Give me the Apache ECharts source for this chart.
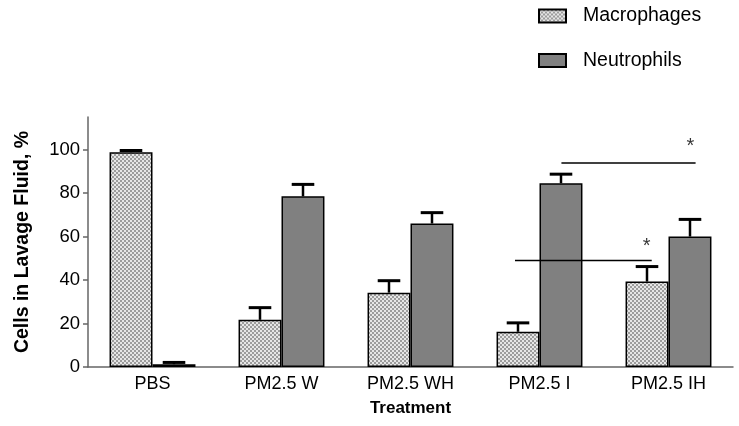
<!DOCTYPE html>
<html>
<head>
<meta charset="utf-8">
<script src="https://cdn.jsdelivr.net/npm/echarts@6/dist/echarts.min.js"></script>
<style>html,body{margin:0;padding:0;background:#fff;}#c{width:739px;height:426px;}</style>
</head>
<body>
<div id="c"></div>
<script>
const categories = ['PBS', 'PM2.5 W', 'PM2.5 WH', 'PM2.5 I', 'PM2.5 IH'];
const macrophages = [98.8, 21.7, 34.2, 16.2, 39.3];
const macrophagesErr = [0.8, 5.6, 5.5, 4.1, 6.9];
const neutrophils = [1.3, 78.5, 66.0, 84.5, 60.0];
const neutrophilsErr = [0.8, 5.5, 5.0, 4.2, 7.9];
const yTicks = [0, 20, 40, 60, 80, 100];
// significance brackets: [xStart, xEnd, y] on a 0..5 category span, star at [x, y]
const sigLines = [[3.67, 4.71, 93.8], [3.31, 4.37, 49.0]];
const sigStars = [[4.67, 101.3], [4.33, 55.3]];

const cv = document.createElement('canvas');
cv.width = 4; cv.height = 4;
const g = cv.getContext('2d');
g.fillStyle = '#e6e6e6'; g.fillRect(0, 0, 4, 4);
g.fillStyle = '#9c9c9c'; g.fillRect(0, 0, 2, 2); g.fillRect(2, 2, 2, 2);
const hatch = { image: cv, repeat: 'repeat' };

function errSeries(name, vals, errs, side) {
  return {
    type: 'custom', name: name + ' err', silent: true, z: 5,
    data: vals.map((v, i) => [i, v, v + errs[i]]),
    renderItem: function (params, api) {
      const band = api.size([1, 0])[0];
      const off = side * band / 6;
      const p0 = api.coord([api.value(0), api.value(1)]);
      const p1 = api.coord([api.value(0), api.value(2)]);
      const x = p0[0] + off;
      const cap = band / 6 * 1.05;
      return {
        type: 'group', children: [
          { type: 'line', shape: { x1: x, y1: p0[1], x2: x, y2: p1[1] }, style: { stroke: '#000', lineWidth: 2.5 } },
          { type: 'line', shape: { x1: x - cap / 2, y1: p1[1], x2: x + cap / 2, y2: p1[1] }, style: { stroke: '#000', lineWidth: 3 } }
        ]
      };
    }
  };
}

const chart = echarts.init(document.getElementById('c'));
const font = 'Liberation Sans, Arial, sans-serif';
chart.setOption({
  animation: false,
  textStyle: { fontFamily: font },
  legend: {
    orient: 'vertical', left: 538, top: 6, padding: 0, icon: 'rect',
    itemWidth: 27, itemHeight: 13, itemGap: 24.5,
    textStyle: { fontSize: 19.5, lineHeight: 20, color: '#000', padding: [0, 0, 0, 12] },
    data: ['Macrophages', 'Neutrophils']
  },
  grid: { left: 88, right: 6, top: 117, bottom: 59, containLabel: false },
  xAxis: [{
    type: 'category', data: categories,
    axisLine: { lineStyle: { color: '#666', width: 1.5 } },
    axisTick: { show: false },
    axisLabel: { fontSize: 18, color: '#000', margin: 8 },
    name: 'Treatment', nameLocation: 'middle', nameGap: 33,
    nameTextStyle: { fontSize: 17, fontWeight: 'bold', color: '#000' }
  }, {
    type: 'value', min: 0, max: 5, show: false
  }],
  yAxis: {
    type: 'value', min: 0, max: 115,
    axisLine: { show: true, lineStyle: { color: '#666', width: 1.5 } },
    axisTick: { show: true, length: 5, customValues: yTicks, lineStyle: { color: '#666', width: 1.5 } },
    axisLabel: { fontSize: 18.5, color: '#000', margin: 8, customValues: yTicks },
    splitLine: { show: false },
    name: 'Cells in Lavage Fluid, %', nameLocation: 'middle', nameGap: 55,
    nameTextStyle: { fontSize: 19.5, fontWeight: 'bold', color: '#000' }
  },
  series: [
    {
      name: 'Macrophages', type: 'bar', data: macrophages, barWidth: '33.3%', barGap: '0%',
      itemStyle: { color: hatch, borderColor: '#000', borderWidth: 1.5 }
    },
    {
      name: 'Neutrophils', type: 'bar', data: neutrophils, barWidth: '33.3%', barGap: '0%',
      itemStyle: { color: '#808080', borderColor: '#000', borderWidth: 1.5 }
    },
    errSeries('Macrophages', macrophages, macrophagesErr, -1),
    errSeries('Neutrophils', neutrophils, neutrophilsErr, 1),
    ...sigLines.map(s => ({
      type: 'line', xAxisIndex: 1, symbol: 'none', silent: true, z: 6,
      data: [[s[0], s[2]], [s[1], s[2]]],
      lineStyle: { color: '#000', width: 1.5 }
    })),
    {
      type: 'scatter', xAxisIndex: 1, symbolSize: 0, silent: true, z: 6,
      data: sigStars,
      label: { show: true, formatter: '*', position: 'inside', fontSize: 20, color: '#000' }
    }
  ]
});
</script>
</body>
</html>
